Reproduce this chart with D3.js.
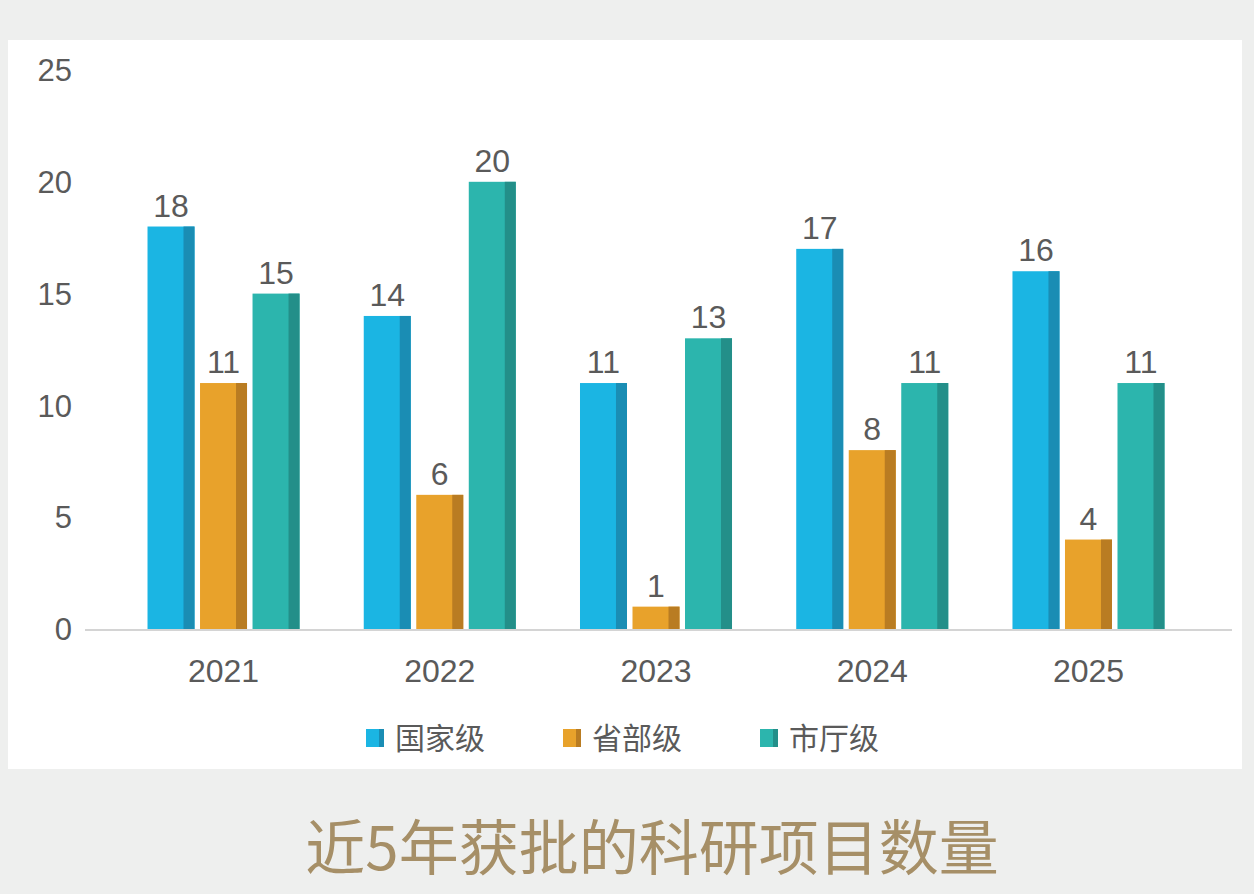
<!DOCTYPE html>
<html>
<head>
<meta charset="utf-8">
<script src="https://cdn.jsdelivr.net/npm/d3@7/dist/d3.min.js"></script>
<style>
  html, body { margin: 0; padding: 0; background: #eeefee; }
  svg { display: block; }
</style>
</head>
<body>
<svg id="chart" width="1254" height="894"></svg>
<script>
// ---- data ----
const years = ["2021", "2022", "2023", "2024", "2025"];
const seriesNames = ["国家级", "省部级", "市厅级"];
const national = [18, 14, 11, 17, 16];
const provincial = [11, 6, 1, 8, 4];
const municipal = [15, 20, 13, 11, 11];
const yTicks = [0, 5, 10, 15, 20, 25];
const titleText = "近5年获批的科研项目数量";

const seriesValues = [national, provincial, municipal];
const faceColors = ["#1bb5e3", "#e8a22b", "#2cb5ad"];
const sideColors = ["#1a8db4", "#b97c22", "#238f89"];

const svg = d3.select("#chart");
const W = 1254, H = 894;
const numFont = "'Liberation Sans', Arial, sans-serif";
const cjkFont = "'Noto Sans CJK SC', 'Liberation Sans', sans-serif";
const textColor = "#5a5a5a";

// background & panel
svg.append("rect").attr("width", W).attr("height", H).attr("fill", "#eeefee");
svg.append("rect").attr("x", 8).attr("y", 40).attr("width", 1234).attr("height", 729).attr("fill", "#ffffff");

// scales
const y = d3.scaleLinear().domain([0, 25]).range([629, 70]);
const p = 0.297;
const x0 = d3.scaleBand().domain(years).range([115.4, 1196.6]).paddingInner(p).paddingOuter(p / 2);
const x1 = d3.scaleBand().domain(seriesNames).range([0, x0.bandwidth()]).paddingInner(0.105).paddingOuter(0);

// y tick labels
svg.append("g").selectAll("text").data(yTicks).join("text")
  .attr("x", 72).attr("y", d => y(d)).attr("dy", "0.36em")
  .attr("text-anchor", "end")
  .attr("font-family", numFont).attr("font-size", 31).attr("fill", textColor)
  .text(d => d);

// axis line
svg.append("line").attr("x1", 85).attr("x2", 1232).attr("y1", y(0) + 1).attr("y2", y(0) + 1)
  .attr("stroke", "#d4d4d4").attr("stroke-width", 2);

// bars
const rows = [];
years.forEach((yr, i) => {
  seriesNames.forEach((s, j) => rows.push({ year: yr, series: s, j, value: seriesValues[j][i] }));
});

const bw = x1.bandwidth();
const sideW = Math.round(bw * 0.234);
const g = svg.append("g");
const barG = g.selectAll("g.bar").data(rows).join("g").attr("class", "bar")
  .attr("transform", d => `translate(${x0(d.year) + x1(d.series)},0)`);

barG.append("rect")
  .attr("x", 0).attr("y", d => y(d.value))
  .attr("width", bw).attr("height", d => y(0) - y(d.value))
  .attr("fill", d => faceColors[d.j]);
barG.append("rect")
  .attr("x", bw - sideW).attr("y", d => y(d.value))
  .attr("width", sideW).attr("height", d => y(0) - y(d.value))
  .attr("fill", d => sideColors[d.j]);

// data labels
barG.append("text")
  .attr("x", bw / 2).attr("y", d => y(d.value) - 10)
  .attr("text-anchor", "middle")
  .attr("font-family", numFont).attr("font-size", 32).attr("fill", textColor)
  .text(d => d.value);

// x labels
svg.append("g").selectAll("text").data(years).join("text")
  .attr("x", d => x0(d) + x0.bandwidth() / 2).attr("y", 670).attr("dy", "0.36em")
  .attr("text-anchor", "middle")
  .attr("font-family", numFont).attr("font-size", 32).attr("fill", textColor)
  .text(d => d);

// legend
const legendX = [366, 563, 760];
const leg = svg.append("g").selectAll("g").data(seriesNames).join("g")
  .attr("transform", (d, i) => `translate(${legendX[i]},738)`);
leg.append("rect").attr("x", 0).attr("y", -9).attr("width", 18).attr("height", 18)
  .attr("fill", (d, i) => faceColors[i]);
leg.append("rect").attr("x", 13).attr("y", -9).attr("width", 5).attr("height", 18)
  .attr("fill", (d, i) => sideColors[i]);
leg.append("text").attr("x", 29).attr("y", 0).attr("dy", "0.36em")
  .attr("font-family", cjkFont).attr("font-size", 30).attr("fill", textColor)
  .text(d => d);

// title
svg.append("text").attr("x", 652).attr("y", 848).attr("dy", "0.36em")
  .attr("text-anchor", "middle")
  .attr("font-family", cjkFont).attr("font-size", 60).attr("fill", "#a68f67")
  .text(titleText);
</script>
</body>
</html>
